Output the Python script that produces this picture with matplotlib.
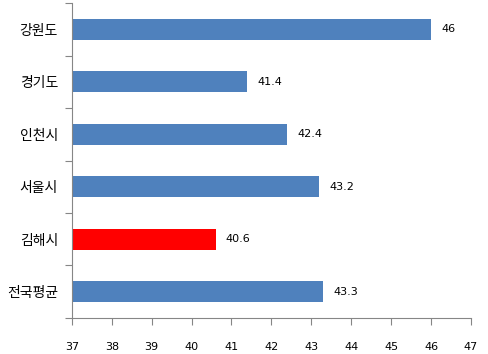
import matplotlib.pyplot as plt
import numpy as np

plt.rcParams['font.family'] = ['Noto Sans CJK KR', 'DejaVu Sans']

# data (top to bottom)
regions = ["강원도", "경기도", "인천시", "서울시", "김해시", "전국평균"]
ages = [46, 41.4, 42.4, 43.2, 40.6, 43.3]
colors = ["#4F81BD", "#4F81BD", "#4F81BD", "#4F81BD", "#FF0000", "#4F81BD"]
xticks = [37, 38, 39, 40, 41, 42, 43, 44, 45, 46, 47]

fig = plt.figure(figsize=(4.89, 3.54), dpi=100)
ax = fig.add_axes([0.147, 0.102, 0.816, 0.889])

y = np.arange(len(regions))
ax.barh(y, [a - 37 for a in ages], left=37, height=0.4, color=colors)
for yi, a in zip(y, ages):
    ax.text(a + 0.25, yi, f"{a:g}", va="center", ha="left", fontsize=8,
            family="DejaVu Sans")

ax.set_xlim(37, 47)
ax.set_ylim(len(regions) - 0.5, -0.5)
ax.set_xticks(xticks)
ax.set_xticklabels([str(t) for t in xticks], fontsize=8, family="DejaVu Sans")

# category boundaries as major ticks, labels as minor
ax.set_yticks(np.arange(-0.5, len(regions), 1))
ax.set_yticklabels([])
ax.set_yticks(y, minor=True)
ax.set_yticklabels(regions, minor=True, fontsize=10)
ax.tick_params(axis="y", which="minor", length=0, pad=10)
ax.tick_params(axis="y", which="major", length=5, color="#868686")
ax.tick_params(axis="x", length=5, color="#868686", pad=12)

for s in ["top", "right"]:
    ax.spines[s].set_visible(False)
for s in ["left", "bottom"]:
    ax.spines[s].set_color("#868686")

fig.savefig("out.png", dpi=100)
